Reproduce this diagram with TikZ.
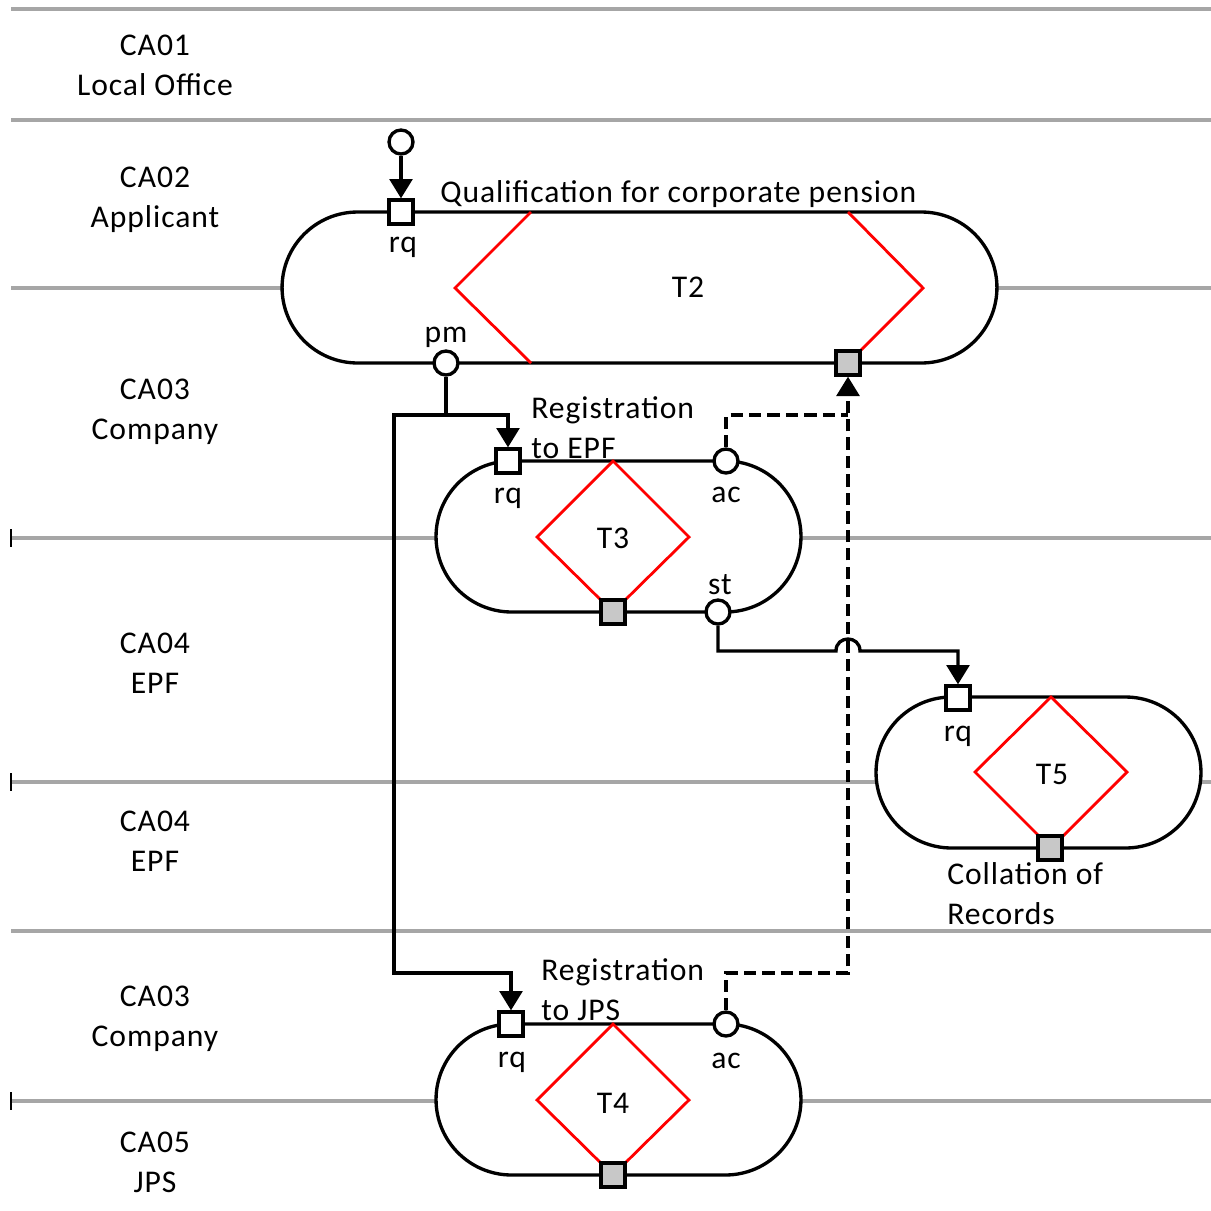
\documentclass[tikz,border=0pt]{standalone}
\usepackage{fontspec}
\setmainfont{Carlito}[LetterSpace=3]
\usetikzlibrary{arrows.meta,shapes.misc}
\definecolor{lanegray}{HTML}{A6A6A6}
\definecolor{portgray}{HTML}{C8C8C8}
\begin{document}
\begin{tikzpicture}[x=0.02cm,y=-0.02cm,
  font=\fontsize{18}{22.8}\selectfont,
  lane/.style={draw=lanegray, line width=2.3pt},
  tick/.style={draw=black, line width=0.6pt},
  trans/.style={draw=black, line width=1.9pt, fill=white, rounded rectangle, inner sep=0pt, minimum height=3.02cm},
  redline/.style={draw=red, line width=1.6pt},
  conn/.style={draw=black, line width=1.9pt},
  arr/.style={-{Triangle[length=11pt,width=13pt]}},
  dsh/.style={dash pattern=on 7pt off 3.5pt},
  sq/.style={draw=black, line width=1.9pt, fill=white, rectangle, minimum size=0.48cm, inner sep=0pt},
  gsq/.style={sq, fill=portgray},
  circ/.style={draw=black, line width=1.9pt, fill=white, circle, minimum size=0.48cm, inner sep=0pt},
  txt/.style={inner sep=0pt},
  lbl/.style={inner sep=0pt, align=center},
]
\useasboundingbox (0,0) rectangle (1211,1211);

% lanes
\foreach \yy in {9,120,288,538,782,931,1101} {\draw[lane] (11,\yy) -- (1211,\yy);}
\foreach \yy in {538,782,1101} {\draw[tick] (11,\yy-9) -- (11,\yy+9);}

% lane labels
\node[lbl] (la1) at (155,65) {CA01\\Local Office};
\node[lbl] (la2) at (155,200) {CA02\\Applicant};
\node[lbl] (la3) at (155,412) {CA03\\Company};
\node[lbl] (la4) at (155,663) {CA04\\EPF};
\node[lbl] (la5) at (155,841) {CA04\\EPF};
\node[lbl] (la6) at (155,1019) {CA03\\Company};
\node[lbl] (la7) at (155,1162) {CA05\\JPS};

% transactions
\node[trans, minimum width=14.3cm] (T2) at (639.5,287.5) {};
\node[trans, minimum width=7.3cm] (T3) at (618.5,536.5) {};
\node[trans, minimum width=6.5cm] (T5) at (1038.5,772.5) {};
\node[trans, minimum width=7.3cm] (T4) at (618.5,1099.5) {};

% red diamonds
\draw[redline] (531,212) -- (455,288) -- (531,363);
\draw[redline] (848,212) -- (923,288) -- (848,363);
\draw[redline] (613,461) -- (537,537) -- (613,612) -- (689,537) -- cycle;
\draw[redline] (1051,697) -- (975,772) -- (1051,848) -- (1127,772) -- cycle;
\draw[redline] (613,1024) -- (537,1100) -- (613,1175) -- (689,1100) -- cycle;

\node[txt] (t2l) at (688,287) {T2};
\node[txt] (t3l) at (613,538) {T3};
\node[txt] (t5l) at (1052,774) {T5};
\node[txt] (t4l) at (613,1103) {T4};

% coordinates
\coordinate (j1) at (446,415);
\coordinate (c1) at (394,415);
\coordinate (c2) at (394,973);
\coordinate (d1) at (848,973);
\coordinate (d2) at (848,415);
\coordinate (s2) at (836,651);
\coordinate (s3) at (860,651);

% ports
\node[circ] (init) at (401,142) {};
\node[sq] (t2rq) at (401,212) {};
\node[circ] (t2pm) at (446,363) {};
\node[gsq] (t2g) at (848,363) {};
\node[sq] (t3rq) at (508,461) {};
\node[circ] (t3ac) at (726,461) {};
\node[gsq] (t3g) at (613,612) {};
\node[circ] (t3st) at (718,612) {};
\node[sq] (t5rq) at (958,698) {};
\node[gsq] (t5g) at (1050,848) {};
\node[sq] (t4rq) at (511,1024) {};
\node[circ] (t4ac) at (726,1024) {};
\node[gsq] (t4g) at (613,1175) {};

% connectors
\draw[conn, arr] (init) -- (t2rq);
\draw[conn] (t2pm) -- (j1);
\draw[conn, arr] (j1) -| (t3rq);
\draw[conn, arr] (j1) -- (c1) -- (c2) -| (t4rq);
\draw[conn, dsh, arr] (t4ac) |- (d1) -- (t2g);
\draw[conn, dsh] (t3ac) |- (d2);
\draw[conn, arr] (t3st) |- (s2) .. controls (836,635) and (860,635) .. (s3) -| (t5rq);

% titles
\node[txt, anchor=west] (t2t) at (440,194) {Qualification for corporate pension};
\node[txt, anchor=west, align=left] (t3t) at (531,428) {Registration\\to EPF};
\node[txt, anchor=west, align=left] (t4t) at (541,990) {Registration\\to JPS};
\node[txt, anchor=west, align=left] (t5t) at (947,894) {Collation of\\Records};

% port labels
\node[txt] (l1) at (403,247) {rq};
\node[txt] (l2) at (446,337) {pm};
\node[txt] (l3) at (508,498) {rq};
\node[txt] (l4) at (726,495) {ac};
\node[txt] (l5) at (720,585) {st};
\node[txt] (l6) at (958,736) {rq};
\node[txt] (l7) at (512,1062) {rq};
\node[txt] (l8) at (726,1061) {ac};
\end{tikzpicture}
\end{document}
